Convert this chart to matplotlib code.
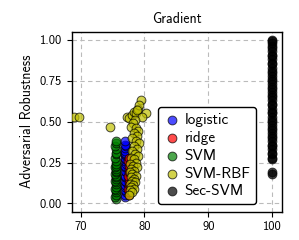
import matplotlib
matplotlib.use("Agg")
import matplotlib.pyplot as plt

plt.rcParams['font.family'] = ['cmss10', 'DejaVu Sans']
plt.rcParams['axes.unicode_minus'] = False

title = "Gradient"
xlabel_ticks = [70, 80, 90, 100]
y_ticks = [0.00, 0.25, 0.50, 0.75, 1.00]

logistic_x = [77.0, 76.9, 77.1, 77.0, 76.9, 77.0, 77.1, 77.0, 76.9, 77.0, 77.1, 77.0, 76.9, 77.0,
              77.1, 77.0, 76.9, 77.0, 77.1, 77.0, 76.9, 77.0, 77.0, 77.1, 76.9, 77.0]
logistic_y = [0.04, 0.05, 0.07, 0.08, 0.10, 0.11, 0.13, 0.14, 0.16, 0.17, 0.19, 0.20, 0.22, 0.23,
              0.24, 0.26, 0.27, 0.28, 0.29, 0.30, 0.31, 0.32, 0.34, 0.35, 0.36, 0.38]

ridge_x = [77.5, 77.6, 77.4, 77.5, 77.6, 77.5, 77.4, 77.5, 77.6, 77.5, 77.4, 77.5]
ridge_y = [0.05, 0.07, 0.09, 0.11, 0.13, 0.15, 0.17, 0.19, 0.21, 0.23, 0.26, 0.28]

svm_x = [75.5, 75.4, 75.5, 75.6, 75.5, 75.4, 75.5, 75.6, 75.5, 75.4, 75.5, 75.6, 75.5, 75.4,
         75.5, 75.6, 75.5, 75.4, 75.5, 75.6, 75.5, 75.4, 75.5, 75.6, 75.5, 75.4, 75.5, 75.5]
svm_y = [0.03, 0.04, 0.05, 0.07, 0.08, 0.09, 0.10, 0.12, 0.13, 0.14, 0.15, 0.16, 0.17, 0.18,
         0.19, 0.20, 0.21, 0.22, 0.23, 0.24, 0.26, 0.28, 0.30, 0.31, 0.33, 0.35, 0.37, 0.38]

rbf_x = [68.95, 69.7, 74.6, 77.3, 77.6, 78.0, 78.3, 78.6, 79.0, 79.4, 79.2, 78.8, 80.2, 79.6,
         78.5, 78.2, 77.9, 78.7, 79.0, 78.4, 78.9, 78.1, 78.6, 79.1, 78.3, 78.8, 78.0, 78.5,
         79.0, 77.9, 78.3, 78.7, 77.8, 78.2, 78.9, 77.9, 78.4, 77.8, 78.1, 78.6, 77.9, 78.3,
         78.0, 78.5, 77.8, 78.2, 77.9, 78.4, 77.8, 78.1, 77.6]
rbf_y = [0.53, 0.53, 0.47, 0.53, 0.52, 0.54, 0.56, 0.55, 0.58, 0.63, 0.60, 0.57, 0.55, 0.53,
         0.51, 0.49, 0.47, 0.46, 0.44, 0.43, 0.41, 0.40, 0.38, 0.37, 0.35, 0.33, 0.32, 0.30,
         0.29, 0.28, 0.27, 0.25, 0.24, 0.23, 0.22, 0.21, 0.20, 0.19, 0.18, 0.17, 0.16, 0.15,
         0.14, 0.13, 0.12, 0.11, 0.10, 0.09, 0.08, 0.07, 0.05]

sec_y = [0.18, 0.19, 0.27, 0.28, 0.30, 0.31, 0.33, 0.35, 0.36, 0.38, 0.40, 0.41, 0.43, 0.45,
         0.46, 0.48, 0.50, 0.51, 0.53, 0.55, 0.56, 0.58, 0.60, 0.61, 0.63, 0.65, 0.66, 0.68,
         0.70, 0.71, 0.73, 0.75, 0.76, 0.78, 0.80, 0.81, 0.83, 0.85, 0.86, 0.88, 0.90, 0.91,
         0.93, 0.95, 0.96, 0.98, 0.99, 1.00]
sec_x = [100.0, 100.0, 100.0, 100.0, 100.0, 100.0, 100.0, 100.0, 100.0, 100.0, 100.0, 100.0,
         100.0, 100.0, 100.0, 100.0, 100.0, 100.0, 100.0, 100.0, 100.0, 100.0, 100.0, 100.0,
         100.0, 100.0, 100.0, 100.0, 100.0, 100.0, 100.0, 100.0, 100.0, 100.0, 100.0, 100.0,
         100.0, 100.0, 100.0, 100.0, 100.0, 100.0, 100.0, 100.0, 100.0, 100.0, 100.0, 100.0]

series = [
    ("logistic", logistic_x, logistic_y, "b"),
    ("ridge", ridge_x, ridge_y, "r"),
    ("SVM", svm_x, svm_y, "g"),
    ("SVM-RBF", rbf_x, rbf_y, "y"),
    ("Sec-SVM", sec_x, sec_y, "k"),
]

fig = plt.figure(figsize=(2.99, 2.40), dpi=100)
ax = fig.add_axes([0.240, 0.118, 0.702, 0.750])

for name, xs, ys, c in series:
    ax.scatter(xs, ys, s=40, c=c, alpha=0.7, edgecolors='k', linewidths=0.7, label=name, zorder=3)

ax.set_xlim(68.6, 101.5)
ax.set_ylim(-0.05, 1.05)
ax.set_xticks(xlabel_ticks)
ax.set_yticks(y_ticks)
ax.set_yticklabels(["%.2f" % v for v in y_ticks])
ax.grid(True, linestyle='--', color='#bbbbbb', linewidth=0.8, dashes=(4, 3))
ax.set_axisbelow(True)
ax.tick_params(labelsize=9)
ax.set_title(title, fontsize=10, pad=6)
ax.set_ylabel("Adversarial Robustness", fontsize=10)
for sp in ax.spines.values():
    sp.set_linewidth(1.0)

leg = ax.legend(loc='lower right', bbox_to_anchor=(0.88, 0.04), fontsize=11,
                framealpha=1.0, edgecolor='k', handletextpad=0.3, borderpad=0.4,
                labelspacing=0.25, handlelength=1.0, borderaxespad=0.0)
leg.get_frame().set_linewidth(1.0)

fig.savefig("out.png", dpi=100)
